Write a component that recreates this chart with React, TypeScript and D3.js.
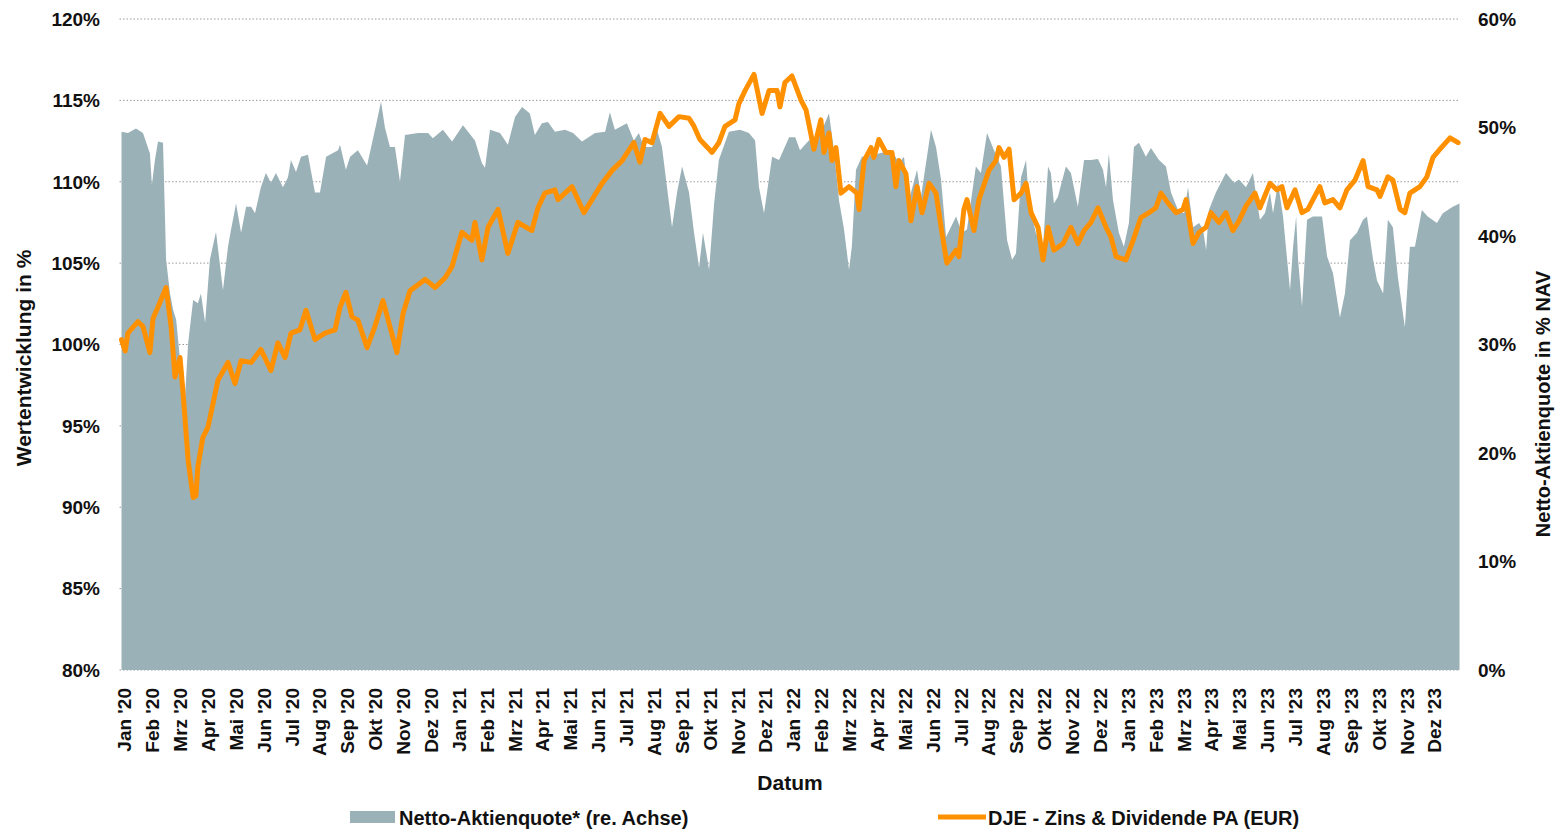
import React from 'react';
import * as d3 from 'd3';

// month names (German) and years for the x axis
const monthNames = ['Jan', 'Feb', 'Mrz', 'Apr', 'Mai', 'Jun', 'Jul', 'Aug', 'Sep', 'Okt', 'Nov', 'Dez'];
const years = ["'20", "'21", "'22", "'23"];

const leftTicks = [80, 85, 90, 95, 100, 105, 110, 115, 120];
const rightTicks = [0, 10, 20, 30, 40, 50, 60];

// [months since Jan 2020, performance in %]
const fundPerf: [number, number][] = [
  [0, 100.3], [0.13, 99.6], [0.23, 100.7], [0.59, 101.4], [0.77, 101.1], [1.02, 99.5], [1.13, 101.6],
  [1.31, 102.3], [1.6, 103.5], [1.78, 101.1], [1.92, 98.0], [2.1, 99.2], [2.21, 97.0], [2.39, 92.9],
  [2.57, 90.6], [2.67, 90.7], [2.74, 92.5], [2.92, 94.3], [3.1, 94.9], [3.46, 97.8], [3.82, 98.9],
  [4.07, 97.6], [4.29, 99.0], [4.65, 98.9], [5.0, 99.7], [5.36, 98.4], [5.61, 100.1], [5.87, 99.2],
  [6.08, 100.7], [6.4, 100.9], [6.62, 102.1], [6.94, 100.3], [7.3, 100.7], [7.66, 100.9], [7.84, 102.3],
  [8.05, 103.2], [8.27, 101.7], [8.48, 101.5], [8.81, 99.8], [9.09, 101.1], [9.38, 102.7], [9.63, 101.1],
  [9.88, 99.5], [10.1, 101.9], [10.35, 103.3], [10.89, 104.0], [11.25, 103.5], [11.61, 104.1], [11.86, 104.8],
  [12.21, 106.9], [12.57, 106.4], [12.68, 107.5], [12.93, 105.2], [13.15, 107.2], [13.51, 108.3], [13.86, 105.6],
  [14.22, 107.5], [14.72, 107.0], [14.94, 108.4], [15.19, 109.3], [15.55, 109.5], [15.66, 108.9], [16.16, 109.7],
  [16.59, 108.1], [16.88, 108.9], [17.24, 109.9], [17.6, 110.7], [17.96, 111.3], [18.38, 112.4], [18.6, 111.2],
  [18.78, 112.6], [19.03, 112.4], [19.32, 114.2], [19.64, 113.4], [20.0, 114.0], [20.36, 113.9], [20.54, 113.4],
  [20.75, 112.6], [21.08, 112.0], [21.18, 111.8], [21.43, 112.4], [21.65, 113.4], [22.01, 113.8], [22.15, 114.8],
  [22.37, 115.6], [22.69, 116.6], [22.98, 114.2], [23.23, 115.6], [23.52, 115.6], [23.62, 114.6], [23.8, 116.1],
  [24.05, 116.5], [24.38, 115.0], [24.56, 114.4], [24.84, 112.0], [25.09, 113.8], [25.2, 111.8], [25.38, 113.0],
  [25.49, 111.3], [25.63, 112.1], [25.81, 109.3], [26.1, 109.7], [26.38, 109.3], [26.46, 108.3], [26.64, 111.3],
  [26.89, 112.1], [26.99, 111.5], [27.17, 112.6], [27.42, 111.8], [27.64, 111.8], [27.78, 109.7], [27.89, 111.3],
  [28.14, 110.5], [28.32, 107.6], [28.54, 109.7], [28.72, 108.1], [28.97, 109.9], [29.22, 109.3], [29.43, 106.9],
  [29.61, 105.0], [29.94, 105.8], [30.04, 105.4], [30.22, 108.3], [30.33, 108.9], [30.58, 107.0], [30.76, 108.9],
  [31.12, 110.7], [31.37, 111.3], [31.48, 112.1], [31.66, 111.5], [31.84, 112.0], [32.02, 108.9], [32.27, 109.3],
  [32.45, 109.9], [32.63, 108.1], [32.88, 107.2], [33.06, 105.2], [33.24, 107.2], [33.45, 105.8], [33.78, 106.2],
  [34.06, 107.2], [34.31, 106.2], [34.53, 107.0], [34.78, 107.5], [35.03, 108.4], [35.32, 107.2], [35.5, 106.6],
  [35.68, 105.4], [36.03, 105.2], [36.29, 106.4], [36.57, 107.8], [36.86, 108.1], [37.11, 108.4], [37.29, 109.3],
  [37.54, 108.7], [37.83, 108.1], [38.08, 108.3], [38.19, 108.9], [38.44, 106.2], [38.66, 106.9], [38.91, 107.2],
  [39.08, 108.1], [39.37, 107.5], [39.62, 108.1], [39.87, 107.0], [40.09, 107.6], [40.34, 108.5], [40.66, 109.3],
  [40.84, 108.4], [41.2, 109.9], [41.45, 109.5], [41.63, 109.7], [41.81, 108.4], [42.1, 109.5], [42.35, 108.1],
  [42.56, 108.3], [42.99, 109.7], [43.17, 108.7], [43.46, 108.9], [43.71, 108.4], [43.96, 109.5], [44.25, 110.1],
  [44.54, 111.3], [44.72, 109.7], [45.04, 109.5], [45.15, 109.1], [45.43, 110.3], [45.61, 110.1], [45.87, 108.3],
  [46.04, 108.1], [46.22, 109.3], [46.58, 109.7], [46.83, 110.3], [47.05, 111.5], [47.3, 112.0], [47.66, 112.7],
  [47.95, 112.4],
];

// [months since Jan 2020, net equity quota in % NAV]
const equityQuota: [number, number][] = [
  [0, 49.6], [0.23, 49.5], [0.52, 49.9], [0.77, 49.5], [1.02, 47.6], [1.09, 44.7], [1.2, 47.0], [1.31, 48.7],
  [1.49, 48.6], [1.6, 37.8], [1.74, 34.7], [1.85, 33.2], [1.96, 32.3], [2.1, 28.6], [2.28, 25.2], [2.39, 30.1],
  [2.57, 34.1], [2.74, 33.8], [2.85, 34.7], [3.0, 32.0], [3.17, 37.8], [3.39, 40.4], [3.64, 35.0], [3.82, 39.0],
  [3.93, 40.6], [4.11, 43.0], [4.29, 40.3], [4.47, 42.7], [4.65, 42.7], [4.79, 42.1], [5.0, 44.5], [5.18, 45.8],
  [5.36, 44.9], [5.54, 45.8], [5.79, 44.5], [5.97, 45.4], [6.08, 47.0], [6.26, 45.9], [6.44, 47.3], [6.69, 47.5],
  [6.94, 44.0], [7.12, 44.0], [7.34, 47.3], [7.77, 47.9], [7.84, 48.4], [8.05, 46.1], [8.2, 47.3], [8.48, 47.9],
  [8.81, 46.5], [8.99, 48.6], [9.17, 50.7], [9.31, 52.4], [9.45, 50.0], [9.63, 48.2], [9.81, 48.2], [9.99, 45.0],
  [10.17, 49.3], [10.64, 49.5], [11.0, 49.5], [11.17, 49.0], [11.53, 49.8], [11.86, 48.7], [12.25, 50.2],
  [12.68, 48.8], [12.93, 46.7], [13.04, 46.3], [13.22, 49.8], [13.58, 49.5], [13.86, 48.4], [14.12, 51.0],
  [14.37, 51.9], [14.65, 51.3], [14.83, 49.3], [15.08, 50.4], [15.3, 50.5], [15.55, 49.6], [15.91, 49.8],
  [16.2, 49.5], [16.52, 48.7], [16.99, 49.5], [17.35, 49.6], [17.52, 51.4], [17.7, 49.8], [18.13, 50.4],
  [18.38, 48.8], [18.56, 49.5], [18.74, 48.2], [19.03, 48.2], [19.21, 49.8], [19.39, 48.2], [19.57, 44.5],
  [19.75, 40.8], [19.93, 44.0], [20.11, 46.4], [20.36, 44.0], [20.54, 40.3], [20.72, 37.1], [20.86, 40.3],
  [21.08, 36.9], [21.26, 43.0], [21.43, 47.0], [21.79, 49.6], [22.19, 49.8], [22.51, 49.5], [22.73, 48.8],
  [22.87, 44.5], [23.05, 42.1], [23.34, 47.3], [23.59, 47.0], [23.95, 49.1], [24.17, 49.1], [24.34, 47.9],
  [24.66, 48.8], [25.02, 49.1], [25.38, 51.3], [25.56, 47.9], [25.74, 43.3], [25.92, 40.6], [26.1, 36.9],
  [26.2, 39.0], [26.35, 46.1], [26.56, 47.3], [27.17, 47.6], [27.64, 47.9], [27.89, 46.7], [28.07, 47.3],
  [28.25, 43.3], [28.54, 46.1], [28.68, 43.6], [29.04, 49.8], [29.22, 48.2], [29.4, 45.2], [29.58, 39.9],
  [29.94, 41.8], [30.15, 40.3], [30.33, 40.6], [30.65, 46.4], [30.83, 45.8], [31.05, 49.5], [31.3, 47.9],
  [31.55, 46.4], [31.77, 39.6], [31.95, 37.8], [32.09, 38.4], [32.27, 45.4], [32.45, 47.0], [32.55, 43.3],
  [32.8, 40.3], [33.06, 39.0], [33.24, 46.4], [33.34, 45.8], [33.45, 43.0], [33.59, 43.6], [33.88, 46.4],
  [34.06, 45.8], [34.31, 42.7], [34.53, 47.0], [34.78, 47.0], [35.03, 47.1], [35.21, 46.1], [35.32, 44.5],
  [35.42, 47.6], [35.57, 43.3], [35.78, 40.3], [35.96, 39.0], [36.14, 41.2], [36.32, 48.2], [36.5, 48.6],
  [36.75, 47.3], [36.93, 48.1], [37.22, 47.0], [37.47, 46.4], [37.65, 44.0], [37.9, 42.4], [38.12, 42.1],
  [38.26, 44.5], [38.44, 40.8], [38.66, 41.2], [38.8, 40.6], [38.91, 38.7], [39.01, 42.4], [39.26, 44.0],
  [39.62, 45.8], [39.91, 44.9], [40.09, 45.2], [40.34, 44.5], [40.59, 45.8], [40.73, 43.3], [40.84, 41.5],
  [41.02, 42.1], [41.2, 44.0], [41.31, 42.1], [41.49, 44.9], [41.67, 41.8], [41.92, 35.0], [42.03, 39.0],
  [42.14, 41.8], [42.21, 37.8], [42.35, 33.5], [42.53, 41.5], [42.74, 41.8], [43.07, 41.8], [43.25, 38.1],
  [43.46, 36.6], [43.71, 32.5], [43.89, 34.7], [44.07, 39.6], [44.32, 40.3], [44.54, 41.5], [44.68, 41.8],
  [44.9, 37.8], [45.04, 35.9], [45.26, 34.7], [45.43, 41.5], [45.61, 40.8], [45.79, 36.2], [46.04, 31.6],
  [46.22, 39.0], [46.4, 39.0], [46.65, 42.4], [46.86, 41.8], [47.19, 41.2], [47.4, 42.1], [47.76, 42.7],
  [48.0, 43.0],
];

const W = 1557;
const H = 829;
const plot = { left: 121.5, right: 1459.5, top: 19, bottom: 670 };
const font = '"Liberation Sans", Arial, sans-serif';
const areaColor = '#9bb1b8';
const lineColor = '#ff9000';

export default function App() {
  const x = d3.scaleLinear().domain([0, 48]).range([plot.left, plot.right]);
  const yLeft = d3.scaleLinear().domain([80, 120]).range([plot.bottom, plot.top]);
  const yRight = d3.scaleLinear().domain([0, 60]).range([plot.bottom, plot.top]);

  const areaGen = d3.area<[number, number]>()
    .x(d => x(d[0]))
    .y0(yRight(0))
    .y1(d => yRight(d[1]));

  const lineGen = d3.line<[number, number]>()
    .x(d => x(d[0]))
    .y(d => yLeft(d[1]));

  const monthLabels = years.flatMap(yr => monthNames.map(m => `${m} ${yr}`));

  return (
    <svg width={W} height={H} viewBox={`0 0 ${W} ${H}`}
      style={{ position: 'absolute', left: 0, top: 0, background: '#fff' }}
      fontFamily={font} fontWeight="bold">
      {/* grid */}
      {leftTicks.map(t => (
        <line key={`g${t}`} x1={plot.left - 2} x2={plot.right} y1={yLeft(t)} y2={yLeft(t)}
          stroke="#9a9a9a" strokeWidth={1} strokeDasharray="1.5,2" />
      ))}

      <path d={areaGen(equityQuota) || ''} fill={areaColor} />
      <path d={lineGen(fundPerf) || ''} fill="none" stroke={lineColor} strokeWidth={5}
        strokeLinejoin="round" strokeLinecap="round" />

      {/* left axis */}
      {leftTicks.map(t => (
        <text key={`l${t}`} x={100} y={yLeft(t)} dy="0.36em" textAnchor="end" fontSize={19} fill="#111">
          {`${t}%`}
        </text>
      ))}
      {/* right axis */}
      {rightTicks.map(t => (
        <text key={`r${t}`} x={1478} y={yRight(t)} dy="0.36em" textAnchor="start" fontSize={19} fill="#111">
          {`${t}%`}
        </text>
      ))}

      {/* x labels */}
      {monthLabels.map((lab, i) => (
        <text key={lab} transform={`translate(${x(i) + 3},688) rotate(-90)`} dy="0.36em"
          textAnchor="end" fontSize={19} fill="#111">
          {lab}
        </text>
      ))}

      <text x={790} y={790} textAnchor="middle" fontSize={21} fill="#111">Datum</text>
      <text transform="translate(23,358) rotate(-90)" dy="0.36em" textAnchor="middle" fontSize={21} fill="#111">
        Wertentwicklung in %
      </text>
      <text transform="translate(1543,404) rotate(-90)" dy="0.36em" textAnchor="middle" fontSize={20} fill="#111">
        Netto-Aktienquote in % NAV
      </text>

      {/* legend */}
      <rect x={350} y={811} width={45} height={12} fill={areaColor} />
      <text x={399} y={825} fontSize={20} fill="#111">Netto-Aktienquote* (re. Achse)</text>
      <line x1={938} x2={986} y1={817} y2={817} stroke={lineColor} strokeWidth={5} />
      <text x={988} y={825} fontSize={20} fill="#111">DJE - Zins &amp; Dividende PA (EUR)</text>
    </svg>
  );
}
